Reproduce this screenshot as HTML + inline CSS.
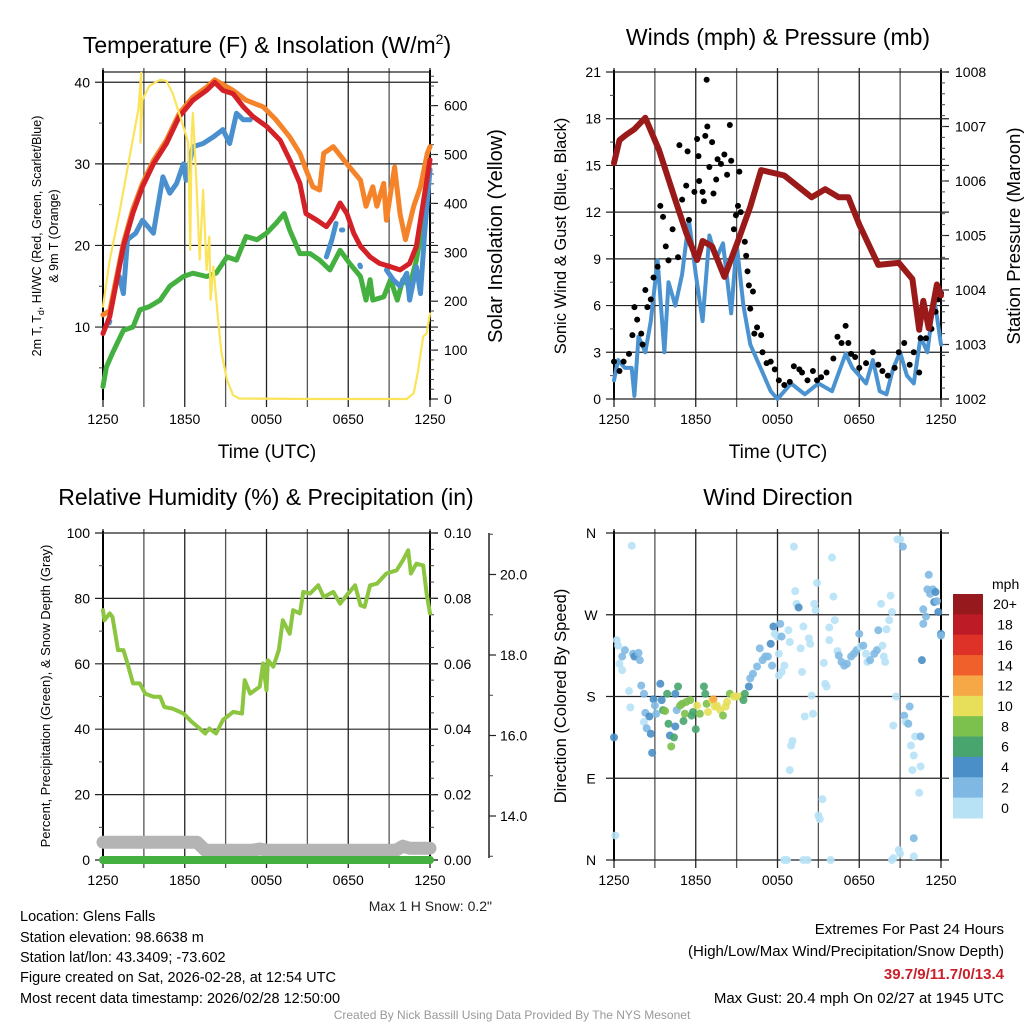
<!DOCTYPE html>
<html><head><meta charset="utf-8">
<style>
html,body{margin:0;padding:0;background:#fff;}
svg{display:block;font-family:"Liberation Sans",Arial,sans-serif;}
</style></head>
<body>
<svg id="chart" width="1024" height="1024" viewBox="0 0 1024 1024" xmlns="http://www.w3.org/2000/svg">
<g id="static">
<text x="267" y="53" font-size="23" text-anchor="middle">Temperature (F) &amp; Insolation (W/m<tspan font-size="14" dy="-9">2</tspan><tspan dy="9">)</tspan></text>
<text x="778" y="45" font-size="23" text-anchor="middle">Winds (mph) &amp; Pressure (mb)</text>
<text x="266" y="505" font-size="23" text-anchor="middle">Relative Humidity (%) &amp; Precipitation (in)</text>
<text x="778" y="505" font-size="23" text-anchor="middle">Wind Direction</text>

<text x="267" y="458" font-size="19" text-anchor="middle">Time (UTC)</text>
<text x="778" y="458" font-size="19" text-anchor="middle">Time (UTC)</text>

<text transform="translate(41,236) rotate(-90)" font-size="12.5" text-anchor="middle">2m T, T<tspan font-size="9" dy="3">d</tspan><tspan dy="-3">, HI/WC (Red, Green, Scarlet/Blue)</tspan></text>
<text transform="translate(58,236) rotate(-90)" font-size="12.5" text-anchor="middle">&amp; 9m T (Orange)</text>
<text transform="translate(502,236) rotate(-90)" font-size="20" text-anchor="middle">Solar Insolation (Yellow)</text>
<text transform="translate(566,236) rotate(-90)" font-size="16.5" text-anchor="middle">Sonic Wind &amp; Gust (Blue, Black)</text>
<text transform="translate(1020,236) rotate(-90)" font-size="18.5" text-anchor="middle">Station Pressure (Maroon)</text>
<text transform="translate(50,696) rotate(-90)" font-size="13" text-anchor="middle">Percent, Precipitation (Green), &amp; Snow Depth (Gray)</text>
<text transform="translate(566,696) rotate(-90)" font-size="16.5" text-anchor="middle">Direction (Colored By Speed)</text>

<text x="492" y="911" font-size="14" text-anchor="end" fill="#222">Max 1 H Snow: 0.2"</text>

<g font-size="14.5">
<text x="20" y="921">Location: Glens Falls</text>
<text x="20" y="942">Station elevation: 98.6638 m</text>
<text x="20" y="962">Station lat/lon: 43.3409; -73.602</text>
<text x="20" y="982">Figure created on Sat, 2026-02-28, at 12:54 UTC</text>
<text x="20" y="1003">Most recent data timestamp: 2026/02/28 12:50:00</text>
</g>
<g font-size="15" text-anchor="end">
<text x="1004" y="934">Extremes For Past 24 Hours</text>
<text x="1004" y="956">(High/Low/Max Wind/Precipitation/Snow Depth)</text>
<text x="1004" y="979" fill="#c8202a" font-weight="bold">39.7/9/11.7/0/13.4</text>
<text x="1004" y="1003">Max Gust: 20.4 mph On 02/27 at 1945 UTC</text>
</g>
<text x="512" y="1019" font-size="12" text-anchor="middle" fill="#999">Created By Nick Bassill Using Data Provided By The NYS Mesonet</text>
</g>
<g id="dyn"></g>
</svg>
<script>
// ---------- DATA ----------
const xTickLabels = ["1250","1850","0050","0650","1250"];
// Panel 1
const redHours = [0,0.5,1.5,2.2,2.9,3.7,4.65,5.6,6.6,7.6,8.2,8.8,9.55,10.3,11,12,13,13.7,14.45,14.9,15.7,16.4,16.9,17.4,17.9,18.4,18.9,19.6,20.3,21.1,21.8,22.5,23,23.5,24];
const redTemp = [9.2,11.3,19.9,24,27.2,30,32.5,35.8,37.8,39,40,39,38.6,37,35.8,34.6,32.9,30.5,27.6,23.9,23.1,22.3,23.5,25.2,23.9,21.5,19.9,18.6,17.8,17.4,17,17.8,19.9,25.2,30.5];
const orangeHours = [0,0.5,1.5,2.2,2.9,3.7,4.65,5.6,6.6,7.6,8.2,9.55,10.5,11.75,12.7,13.7,14.45,14.9,15.4,15.9,16.2,16.9,17.9,18.9,19.3,19.8,20.1,20.6,20.8,21.4,21.8,22.2,22.8,23.3,23.8,24];
const orangeTemp = [11.5,12,20.3,24.5,27.6,30.4,32.9,36.2,38.2,39.4,40.3,39,37.8,37,35.4,33.3,31.3,29.3,27.2,26.8,31.3,32.1,30,28,24.8,27.2,24.8,27.6,23.1,29.6,23.9,20.7,24.8,27.2,31.3,32.1];
const blueHours = [0.45,0.5,null,1.2,1.5,1.8,2.4,2.9,3.7,3.9,4.4,4.9,5.4,5.9,6.1,6.6,7.35,8.1,8.8,9.3,9.8,10.3,10.8,null,16.4,16.8,17.1,null,17.5,17.6,null,18.85,18.9,null,20.8,21.3,21.8,22.3,22.5,23,23.3,23.6,24];
const blueTemp = [10.5,10.7,null,16.2,14.1,20.7,21.5,23.1,21.5,23.5,28.4,26.4,27.6,30,28,32.1,32.5,33.3,34.2,32.5,36.2,35.4,35.4,null,18.6,20.7,22.7,null,21.9,21.9,null,17.6,17.4,null,17,15.8,15,16.6,13.3,17.4,14.1,21.5,29.3];
const greenHours = [0,0.25,0.7,1.5,2.2,2.7,3.4,4.2,4.9,5.9,6.6,7.6,8.3,9.1,9.8,10.5,11.3,12,12.7,13.3,13.7,14.45,15.2,15.9,16.65,17.4,18.1,18.9,19.3,19.6,19.8,20.6,21.1,21.6,22,22.5,23,23.5,24];
const greenTemp = [2.7,5.1,6.8,9.6,10,12.1,12.5,13.3,15,16.2,16.6,16.2,16.6,18.6,18.2,21.1,20.7,21.5,22.7,23.9,21.9,19,19,18.2,17,19.4,17.8,16.2,13.3,15.8,13.3,13.7,15.8,13.3,15.8,15,18.2,23.1,29.3];
const solarHours = [0,0.5,1.2,2,2.6,2.8,2.75,2.9,3.4,4.2,4.65,5.1,5.75,6.25,6.4,6.5,6.6,6.85,7.1,7.35,7.6,7.8,7.9,8.1,8.45,8.7,9.1,9.55,10,16,22.3,22.8,23.1,23.5,23.75,24];
const solarWm2 = [189,285,380,503,592,667,524,612,640,653,650,626,571,524,305,537,585,448,285,428,264,332,203,271,162,94,39,8,1,0,0,12,53,128,134,175];
// Panel 2
const windHours = [0,0.3,0.8,1.3,1.5,1.8,2.3,2.7,3.2,3.7,4,4.5,5,5.5,6,6.5,7,7.5,8,8.6,9,9.5,10,10.5,11,11.5,12,13,14,15,16,17,17.5,18,18.5,19,19.5,20,20.5,21,21.5,22,22.5,23,23.5,24];
const windSpeed = [1.2,2.5,2,2,0.2,4,3,5,8.9,3,7.5,6,8,11.5,8,5,10.5,9,10,5.5,10,6,3.5,2.5,1.5,0.5,0,1,0.3,1,0.5,2.9,2,1.5,1,2.5,0.5,0.3,2,3,1.5,1,4,3,6.5,3.5];
const gustHours = [0,0.4,0.7,1.1,1.35,1.5,1.7,2,2.1,2.3,2.45,2.7,2.9,3.2,3.4,3.6,3.8,4,4.3,4.7,4.8,5,5.3,5.4,5.5,5.9,6.1,6.2,6.25,6.5,6.6,6.7,6.8,6.85,7,7.2,7.3,7.5,7.6,7.85,8.1,8.3,8.5,8.6,8.8,8.95,9.1,9.2,9.3,9.6,9.7,9.8,9.9,10,10.2,10.3,10.5,10.8,10.9,11.2,11.5,11.8,12.1,12.5,12.9,13.2,13.6,13.8,14.2,14.6,14.9,15.2,15.6,16.1,16.4,16.7,17,17.2,17.4,17.7,18,18.5,19,19.4,19.7,20.1,20.6,20.9,21.3,21.7,22,22.4,22.5,22.9,23.3,23.6,23.8,24];
const gustSpeed = [2.4,1.8,2.4,2.9,4.1,5.9,5.1,4.2,3.5,7,5.9,6.4,7.8,8.5,12.4,11.7,9.8,8.9,10.9,9.1,16.3,12.8,13.7,15.9,11.5,13.3,16.7,15.6,14,13.3,12.7,16.9,20.5,17.5,14.9,16.5,13.2,14.1,15.4,15.1,15.7,14.4,17.6,15.3,10.9,11.8,12.4,14.6,12,10.1,9.2,8.2,7.3,5.8,6.9,4.2,4.6,4.1,3,2.3,2.4,1.9,1.2,0.9,1.1,2.1,1.9,1.7,1.2,1.8,1.2,1.4,1.7,2.6,4,3.6,4.7,3.6,2.9,2.7,2,2.3,3,2.2,1.8,1.5,2,3,3.6,2.2,3,1.7,3.9,3.9,4.5,5.6,6.4,6.8];
const pressHours = [0,0.4,0.9,1.5,2.3,3.3,4.5,5.3,6.1,6.5,7.2,8.1,9.1,10,10.8,12.5,14,14.5,15.5,16.5,17.2,18,19.4,20.9,21.9,22.4,22.7,23.1,23.7,24];
const pressMb = [1006.33,1006.75,1006.85,1006.95,1007.16,1006.57,1005.65,1005.05,1004.55,1004.9,1004.8,1004.24,1004.9,1005.53,1006.2,1006.1,1005.8,1005.7,1005.85,1005.7,1005.7,1005.2,1004.46,1004.5,1004.2,1003.27,1003.8,1003.3,1004.1,1003.9];
// Panel 3
const rhHours = [0,0.1,0.5,0.7,1.1,1.5,1.8,2.2,2.7,3.1,3.7,4.2,4.5,5.1,5.9,6.5,7.1,7.5,7.8,8.3,8.8,9.55,10.2,10.4,10.8,11.5,11.75,12,12.1,12.5,12.9,13.2,13.7,13.95,14.45,14.7,15.2,15.8,16.2,16.9,17.4,17.9,18.5,18.9,19.2,19.6,20.1,20.8,21.55,22,22.4,22.6,23,23.5,23.75,24];
const rhPct = [76.4,73.3,75.4,74.3,64.2,64.2,60.1,54,54,50.9,49.9,49.9,46.8,46.3,44.8,42.3,40.2,38.7,40.2,38.7,42.8,45.3,44.8,55,50.9,53,60.1,51.9,61.1,59.1,64.2,73.3,69.2,76.4,75.4,82,81.5,84,80.4,82,78.4,81,84,77.9,77.4,84,84.5,87.6,88.6,91.6,94.7,87.6,90.6,90.1,81.5,75.4];
const snowHours = [0,6.9,7.5,11,11.5,12,21.5,22,22.5,24];
const snowDepth = [13.35,13.35,13.15,13.15,13.18,13.15,13.15,13.25,13.2,13.2];
const precipHours = [0,24];
const precipIn = [0,0];
// Panel 4
const dirHours = [0.2,0.3,0.1,0,1.3,0.6,0.8,0.4,0.6,1.4,1.5,1.8,1.9,1.1,1.2,2.0,2.2,2.3,2.2,2.4,2.6,2.7,2.8,2.9,3.0,3.1,3.4,3.5,3.6,3.75,3.9,4.0,4.1,4.2,4.4,4.5,4.5,4.6,4.7,4.85,5.0,5.1,5.2,5.3,5.6,5.7,5.8,6.0,6.1,6.3,6.6,6.7,6.8,6.9,7.2,7.3,7.4,7.55,7.8,8.0,8.2,8.3,8.5,8.8,9.0,9.3,9.5,9.6,9.9,10.0,10.2,10.5,10.7,10.9,11.1,11.3,11.5,11.6,11.7,11.8,12.0,12.2,12.3,12.1,12.3,12.1,12.5,12.8,12.9,13.2,13.3,13.4,13.55,13.7,13.8,13.9,14.0,14.3,14.4,14.5,14.6,14.7,14.8,14.9,13.1,13.0,12.9,15.3,15.0,15.1,15.4,15.5,15.6,15.8,15.8,16.0,16.1,16.2,16.4,16.5,16.7,16.9,17.1,17.4,17.6,17.8,18.0,18.1,18.3,18.5,18.6,18.8,19.1,19.3,19.4,19.6,19.7,19.8,19.9,20.0,20.2,20.3,20.4,20.5,20.7,20.8,21.0,21.2,20.9,21.0,21.3,21.4,21.6,21.7,21.8,21.9,22.0,22.1,22.4,22.5,22.5,22.6,22.7,22.7,22.9,23.0,23.1,23.2,23.4,23.5,23.6,23.7,23.8,24.0,24.0,22.0,22.0,20.4,20.5,12.7,12.5,14.2,13.9,15.9];
const dirDeg = [242,236,27,135,346,224,231,216,209,227,224,228,220,186,168,192,183,162,152,145,158,139,118,177,170,161,194,176,165,164,183,150,137,125,135,147,183,165,191,170,172,153,161,174,176,159,163,144,170,161,191,183,172,163,176,177,169,170,165,159,169,174,183,180,180,180,176,183,191,200,205,213,233,220,224,224,238,214,257,249,246,260,246,227,207,203,214,253,240,345,296,282,278,233,207,257,158,244,238,181,161,282,275,305,131,126,99,67,49,45,217,194,191,242,256,333,290,264,230,225,218,214,216,224,227,231,249,235,236,227,218,220,227,231,253,282,236,224,218,254,264,291,273,148,180,353,353,345,11,7,159,152,150,169,126,99,115,136,74,103,136,220,260,276,268,298,314,293,298,284,295,285,273,249,247,24,4,0,2,0,0,0,0,0];
const dirSpeed = [1,1,1,5,1,3,3,1,1,3,5,3,3,1,1,3,3,3,1,3,5,5,5,5,3,3,5,5,7,9,7,7,5,9,7,5,5,3,7,9,9,7,9,9,9,7,7,7,11,9,7,7,9,11,11,13,11,11,11,9,11,11,9,11,11,11,7,7,5,3,3,3,3,3,3,3,5,3,5,1,1,3,3,1,1,1,1,1,1,1,1,1,5,1,1,1,1,1,1,1,1,1,1,1,1,1,1,1,1,1,1,1,1,1,1,1,1,1,1,3,3,3,3,3,3,3,3,1,3,1,1,3,3,3,3,1,1,1,1,1,1,1,1,1,1,1,1,3,1,1,3,1,3,3,1,1,1,1,1,1,3,5,3,3,3,3,3,3,3,5,5,3,5,5,3,3,1,1,1,1,1,1,1,1,1];
const cbarLabels = ["20+","18","16","14","12","10","8","6","4","2","0"];
const cbarColors = ["#961a1d","#bd1c26","#de3228","#f0602b","#f6a847","#e7df59","#7cc04d","#48a56d","#4a8fc7","#7fb9e3","#b7e2f6"];
const speedBreaks = [2,4,6,8,10,12,14,16,18,20];

// ---------- DRAW ----------
const NS = "http://www.w3.org/2000/svg";
const dyn = document.getElementById("dyn");
function mk(tag, attrs, parent){
  const e = document.createElementNS(NS, tag);
  for (const k in attrs) e.setAttribute(k, attrs[k]);
  (parent||dyn).appendChild(e);
  return e;
}
function linScale(d0,d1,r0,r1){ return v => r0 + (v-d0)/(d1-d0)*(r1-r0); }
function pathFrom(xs, ys, sx, sy){
  let d = "", pen = false;
  for (let i=0;i<xs.length;i++){
    if (xs[i]===null || ys[i]===null){ pen=false; continue; }
    d += (pen?"L":"M") + sx(xs[i]).toFixed(1) + "," + sy(ys[i]).toFixed(1);
    pen = true;
  }
  return d;
}

function panelFrame(x0,x1,y0,y1,name){
  const g = mk("g",{});
  
  
  const sx = linScale(0,24,x0,x1);
  for (let h=0; h<=24; h+=3){
    const l = mk("line",{x1:sx(h),x2:sx(h),y1:y0-4,y2:y1+8,stroke:(h%6===0)?"#222":"#555","stroke-width":1.3},g);
    
    
  }
  mk("line",{x1:x0,x2:x0,y1:y0-2,y2:y1+1,stroke:"#000","stroke-width":2},g);
  mk("line",{x1:x1,x2:x1,y1:y0-2,y2:y1+1,stroke:"#000","stroke-width":2},g);
  for (let i=0;i<xTickLabels.length;i++){
    const t = mk("text",{x:sx(i*6),y:y1+25,"font-size":14,"text-anchor":"middle"},g);
    t.textContent = xTickLabels[i];
    
    
  }
  return sx;
}
function hLine(x0,x1,y,g){ mk("line",{x1:x0-8,x2:x1+8,y1:y,y2:y,stroke:"#222","stroke-width":1.2},g); }
function leftAxis(x0,x1,sy,majors,minors,fmt,name){
  const g = mk("g",{});
  
  
  majors.forEach(v=>{
    hLine(x0,x1,sy(v),g);
    const t = mk("text",{x:x0-13,y:sy(v)+5,"font-size":14,"text-anchor":"end"},g);
    t.textContent = fmt(v);
  });
  minors.forEach(v=>{ mk("line",{x1:x0-4,x2:x0,y1:sy(v),y2:sy(v),stroke:"#444","stroke-width":1},g); });
}
function rightAxis(x1,sy,majors,minors,fmt,name){
  const g = mk("g",{});
  
  
  majors.forEach(v=>{
    mk("line",{x1:x1,x2:x1+8,y1:sy(v),y2:sy(v),stroke:"#222","stroke-width":1.2},g);
    const t = mk("text",{x:x1+14,y:sy(v)+5,"font-size":14},g);
    t.textContent = fmt(v);
  });
  minors.forEach(v=>{ mk("line",{x1:x1,x2:x1+4,y1:sy(v),y2:sy(v),stroke:"#444","stroke-width":1},g); });
}
function range(a,b,s){ const r=[]; for(let v=a; v<=b+1e-9; v+=s) r.push(+v.toFixed(4)); return r; }
function series(d, color, w, name, extra){
  const p = mk("path",Object.assign({d:d,fill:"none",stroke:color,"stroke-width":w,"stroke-linejoin":"round","stroke-linecap":"round"},extra||{}));
  
  
  return p;
}

// Panel 1
(function(){
  const x0=103,x1=430,y0=72,y1=399;
  const sx = panelFrame(x0,x1,y0,y1,"temp");
  const sy = linScale(1.18,41.26,y1,y0);
  const sr = linScale(0,668.7,y1,y0);
  mk("line",{x1:x0,x2:x1,y1:y0,y2:y0,stroke:"#222","stroke-width":1.2});
  leftAxis(x0,x1,sy,[10,20,30,40],range(5,40,5).filter(v=>v%10),v=>v,"temp-left-axis");
  rightAxis(x1,sr,[0,100,200,300,400,500,600],range(20,660,20),v=>v,"insolation-right-axis");
  series(pathFrom(orangeHours,orangeTemp,sx,sy),"#f5832a",5,"orange-9m-temp-line");
  series(pathFrom(greenHours,greenTemp,sx,sy),"#43b040",5,"green-dewpoint-line");
  series(pathFrom(blueHours,blueTemp,sx,sy),"#4a90cf",5,"blue-windchill-line");
  series(pathFrom(redHours,redTemp,sx,sy),"#d42027",5,"red-2m-temp-line");
  series(pathFrom(solarHours,solarWm2,sx,sr),"#fbe35a",2.2,"yellow-insolation-line");
})();

// Panel 2
(function(){
  const x0=614,x1=941,y0=72,y1=399;
  const sx = panelFrame(x0,x1,y0,y1,"wind");
  const sy = linScale(0,21,y1,y0);
  const sp = linScale(1002,1008,y1,y0);
  leftAxis(x0,x1,sy,range(0,21,3),range(1.5,19.5,3),v=>v,"wind-left-axis");
  rightAxis(x1,sp,range(1002,1008,1),range(1002,1008,0.2),v=>v,"pressure-right-axis");
  series(pathFrom(windHours,windSpeed,sx,sy),"#4b93d0",4,"sonic-wind-line");
  for (let i=0;i<gustHours.length;i++){
    const c = mk("circle",{cx:sx(gustHours[i]),cy:sy(gustSpeed[i]),r:3,fill:"#000"});
    
    
  }
  series(pathFrom(pressHours,pressMb,sx,sp),"#9a1a1a",6,"pressure-line");
})();

// Panel 3
(function(){
  const x0=103,x1=430,y0=533,y1=860;
  const sx = panelFrame(x0,x1,y0,y1,"rh");
  const sy = linScale(0,100,y1,y0);
  const spr = linScale(0,0.1,y1,y0);
  const ss = linScale(12.907,21.031,y1,y0);
  leftAxis(x0,x1,sy,range(0,100,20),range(10,90,20),v=>v,"rh-left-axis");
  rightAxis(x1,spr,range(0,0.1,0.02),range(0,0.1,0.005),v=>v.toFixed(2),"precip-right-axis");
  const g = mk("g",{});
  
  
  mk("line",{x1:489,x2:489,y1:y0,y2:y1-2,stroke:"#222","stroke-width":1.5},g);
  [14,16,18,20].forEach(v=>{
    mk("line",{x1:489,x2:496,y1:ss(v),y2:ss(v),stroke:"#222","stroke-width":1.2},g);
    const t = mk("text",{x:500,y:ss(v)+5,"font-size":14},g); t.textContent = v.toFixed(1);
  });
  [13,15,17,19,21].forEach(v=>{ mk("line",{x1:489,x2:493,y1:ss(v),y2:ss(v),stroke:"#444"},g); });
  series(pathFrom(snowHours,snowDepth,sx,ss),"#b4b4b4",13,"snow-depth-line");
  series(pathFrom(precipHours,precipIn,sx,spr),"#43b040",8,"precip-line");
  series(pathFrom(rhHours,rhPct,sx,sy),"#8cc540",4,"rh-line");
})();

// Panel 4
(function(){
  const x0=614,x1=941,y0=533,y1=860;
  const sx = panelFrame(x0,x1,y0,y1,"dir");
  const sy = linScale(0,360,y1,y0);
  const g = mk("g",{});
  
  
  ["N","E","S","W","N"].forEach((lab,i)=>{
    hLine(x0,x1,sy(i*90),g);
    const t = mk("text",{x:591,y:sy(i*90)+5,"font-size":14,"text-anchor":"middle"},g); t.textContent = lab;
  });
  function colorFor(s){ let k=0; while(k<speedBreaks.length && s>=speedBreaks[k]) k++; return cbarColors[cbarColors.length-1-k]; }
  for (let i=0;i<dirHours.length;i++){
    const c = mk("circle",{cx:sx(dirHours[i]),cy:sy(dirDeg[i]),r:4,fill:colorFor(dirSpeed[i]),"fill-opacity":0.9});
    
    
  }
  const cb = mk("g",{});
  
  
  const t0 = mk("text",{x:992,y:589,"font-size":14},cb); t0.textContent="mph";
  const bh = (818-594)/cbarColors.length;
  for (let i=0;i<cbarColors.length;i++){
    mk("rect",{x:953,y:594+i*bh,width:30,height:bh+0.5,fill:cbarColors[i]},cb);
    const t = mk("text",{x:1005,y:594+i*bh+bh/2+5,"font-size":14,"text-anchor":"middle"},cb);
    t.textContent = cbarLabels[i];
  }
})();
</script>
</body></html>
